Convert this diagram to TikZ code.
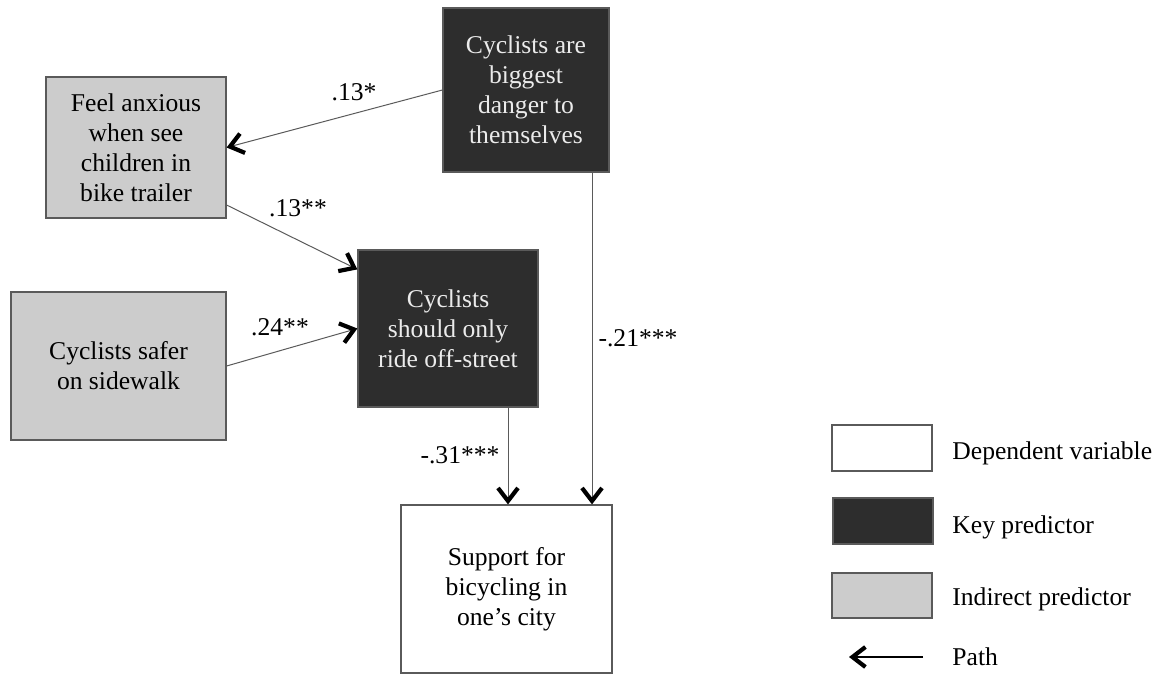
\documentclass[tikz,border=0pt]{standalone}
\usepackage{fontspec}
\setmainfont{Liberation Serif}
\usetikzlibrary{positioning,arrows.meta}
\definecolor{keyfill}{RGB}{45,45,45}
\definecolor{indfill}{RGB}{204,204,204}
\definecolor{edgegray}{RGB}{90,90,90}

\begin{document}
\begin{tikzpicture}[x=0.5pt, y=-0.5pt,
    every node/.style={font=\fontsize{12.8}{15}\selectfont},
    var/.style={draw=edgegray, line width=0.6pt, inner sep=0pt, align=center},
    depbox/.style={var, fill=white, text=black},
    keybox/.style={var, fill=keyfill, text=white!92!black},
    indbox/.style={var, fill=indfill, text=black},
    path/.style={-{Straight Barb[length=6.5pt, width=10pt, line width=2.1pt, color=black]},
                 line width=0.5pt, color=edgegray},
    lbl/.style={inner sep=0pt},
    leg/.style={anchor=west, inner sep=0pt},
  ]
  \useasboundingbox (0,0) rectangle (1163,675);

  % Variables
  \node[keybox, minimum width=83pt, minimum height=82pt]
    (danger) at (526,90) {Cyclists are\\biggest\\danger to\\themselves};
  \node[indbox, minimum width=90pt, minimum height=70.5pt]
    (feel) at (136,147.5) {Feel anxious\\when see\\children in\\bike trailer};
  \node[indbox, minimum width=107.5pt, minimum height=74pt]
    (safer) at (118.5,366) {Cyclists safer\\on sidewalk};
  \node[keybox, minimum width=90pt, minimum height=78.5pt]
    (offstreet) at (448,328.5) {Cyclists\\should only\\ride off-street};
  \node[depbox, minimum width=105.5pt, minimum height=84pt]
    (support) at (506.5,589) {Support for\\bicycling in\\one’s city};

  % Paths
  \draw[path] (danger.west) -- (feel.east);
  \draw[path] ([yshift=-28.75pt]feel.east) -- ([yshift=-10pt]offstreet.north west);
  \draw[path] (safer.east) -- (offstreet.west);
  \draw[path] ([xshift=30pt]offstreet.south) -- ([xshift=30pt]offstreet.south |- support.north);
  \draw[path] ([xshift=33pt]danger.south) -- ([xshift=33pt]danger.south |- support.north);

  % Coefficients
  \node[lbl] (c1) at (354,92) {.13*};
  \node[lbl] (c2) at (298,208) {.13**};
  \node[lbl] (c3) at (280,327) {.24**};
  \node[lbl] (c4) at (460,455) {-.31***};
  \node[lbl] (c5) at (638,338) {-.21***};

  % Legend
  \node[depbox, minimum width=50pt, minimum height=23pt] (legdep) at (882,448) {};
  \node[keybox, minimum width=50pt, minimum height=23pt] (legkey) at (883,521) {};
  \node[indbox, minimum width=50pt, minimum height=22.5pt] (legind) at (882,595.5) {};
  \node[leg] (tdep) at (952,453) {Dependent variable};
  \node[leg] (tkey) at (952,527) {Key predictor};
  \node[leg] (tind) at (952,599) {Indirect predictor};
  \node[leg] (tpath) at (952,657) {Path};
  \coordinate (pfrom) at (923,657);
  \coordinate (pto) at (849,657);
  \draw[path, line width=0.9pt, color=black] (pfrom) -- (pto);
\end{tikzpicture}
\end{document}
